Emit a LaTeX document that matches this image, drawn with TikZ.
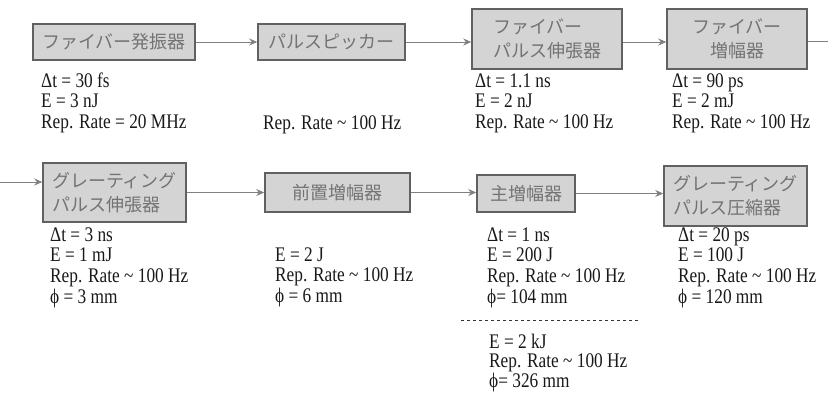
\documentclass[tikz,border=0pt]{standalone}
\usepackage{fontspec}
\setmainfont{Liberation Serif}
\newfontfamily\jpfont{Noto Sans CJK JP}
\usetikzlibrary{arrows.meta}
\tikzset{
  blk/.style={draw=black!62, line width=1.5pt, fill=black!17, text=black!55,
    font=\jpfont\fontsize{18}{24}\selectfont, inner sep=0pt},
  info/.style={anchor=base west, inner sep=0pt, yscale=1.2,
    font=\fontsize{17.3}{17.3}\selectfont, text=black!90},
  infotight/.style={info, font=\fontsize{17.3}{15}\selectfont},
  flow/.style={draw=black!50, line width=0.9pt, -{Stealth[length=8pt,width=7pt]}},
  flowend/.style={draw=black!50, line width=0.9pt},
  sep/.style={draw=black!80, line width=0.8pt, dash pattern=on 3pt off 3pt}
}
\newcommand{\tl}{\textasciitilde}
\begin{document}
\begin{tikzpicture}[x=1pt,y=-1pt]
\useasboundingbox (0,0) rectangle (828,392);
% top row boxes
\node[blk, minimum width=162pt, minimum height=36pt] (b1) at (114,42) {ファイバー発振器};
\node[blk, minimum width=147pt, minimum height=36pt] (b2) at (331.5,42) {パルスピッカー};
\node[blk, minimum width=150pt, minimum height=60pt, align=left] (b3) at (547,39) {ファイバー\\パルス伸張器};
\node[blk, minimum width=140pt, minimum height=60pt, align=center] (b4) at (737,39) {ファイバー\\増幅器};
% bottom row boxes
\node[blk, minimum width=143pt, minimum height=59pt, align=left] (b5) at (114.5,192.5) {グレーティング\\パルス伸張器};
\node[blk, minimum width=145pt, minimum height=39pt] (b6) at (337.5,192.5) {前置増幅器};
\node[blk, minimum width=98pt, minimum height=37pt] (b7) at (526,193.5) {主増幅器};
\node[blk, minimum width=143pt, minimum height=60pt, align=left] (b8) at (735.5,196) {グレーティング\\パルス圧縮器};
% connectors
\coordinate (outR) at (828,41);
\coordinate (inL) at (0,182);
\draw[flow] (b1.east) -- (b2.west);
\draw[flow] (b2.east) -- (b2.east -| b3.west);
\draw[flow] (b3.east |- b2.east) -- (b2.east -| b4.west);
\draw[flowend] (b4.east |- outR) -- (outR);
\draw[flow] (inL) -- (inL -| b5.west);
\draw[flow] (b5.east) -- (b5.east -| b6.west);
\draw[flow] (b6.east) -- (b6.east -| b7.west);
\draw[flow] (b7.east) -- (b7.east -| b8.west);
% parameters
\node[info] (p1) at (41,87) {\begin{tabular}[t]{@{}l@{}}Δt = 30 fs\\E = 3 nJ\\Rep. Rate = 20 MHz\end{tabular}};
\node[info] (p2) at (263,129) {Rep. Rate \tl{} 100 Hz};
\node[info] (p3) at (475,87) {\begin{tabular}[t]{@{}l@{}}Δt = 1.1 ns\\E = 2 nJ\\Rep. Rate \tl{} 100 Hz\end{tabular}};
\node[info] (p4) at (672,87) {\begin{tabular}[t]{@{}l@{}}Δt = 90 ps\\E = 2 mJ\\Rep. Rate \tl{} 100 Hz\end{tabular}};
\node[info] (p5) at (50,241) {\begin{tabular}[t]{@{}l@{}}Δt = 3 ns\\E = 1 mJ\\Rep. Rate \tl{} 100 Hz\\ϕ = 3 mm\end{tabular}};
\node[info] (p6) at (275,261) {\begin{tabular}[t]{@{}l@{}}E = 2 J\\Rep. Rate \tl{} 100 Hz\\ϕ = 6 mm\end{tabular}};
\node[info] (p7) at (487,241) {\begin{tabular}[t]{@{}l@{}}Δt = 1 ns\\E = 200 J\\Rep. Rate \tl{} 100 Hz\\ϕ= 104 mm\end{tabular}};
\node[info] (p8) at (678,241) {\begin{tabular}[t]{@{}l@{}}Δt = 20 ps\\E = 100 J\\Rep. Rate \tl{} 100 Hz\\ϕ = 120 mm\end{tabular}};
\coordinate (sepL) at (461,320);
\coordinate (sepR) at (640,320);
\draw[sep] (sepL) -- (sepR);
\node[infotight] (p9) at (489,348) {\begin{tabular}[t]{@{}l@{}}E = 2 kJ\\Rep. Rate \tl{} 100 Hz\\ϕ= 326 mm\end{tabular}};
\end{tikzpicture}
\end{document}
